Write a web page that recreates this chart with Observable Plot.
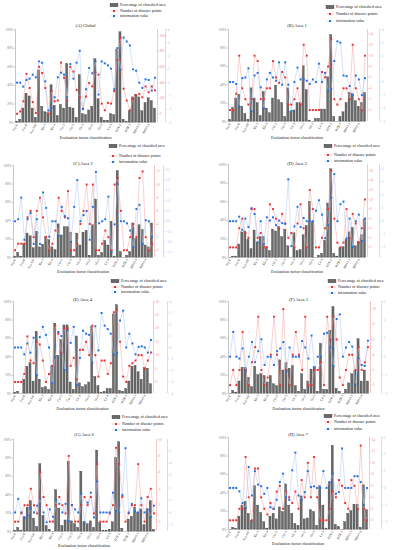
<!DOCTYPE html>
<html><head><meta charset="utf-8">
<script src="https://cdn.jsdelivr.net/npm/d3@7"></script>
<script src="https://cdn.jsdelivr.net/npm/@observablehq/plot@0.6"></script>
<style>
html,body{margin:0;padding:0;background:#fff;}
body{width:393px;height:550px;overflow:hidden;position:relative;font-family:"Liberation Serif","Times New Roman",serif;}
svg{position:absolute;}
</style></head><body>
<script>
// ---- categories (evaluation factor classes) ----
const categories = ["Asp-F","Asp-N","Asp-NE","Asp-E","Asp-SE","Asp-S","Asp-SW","Asp-W","Asp-NW",
  "Ele-1","Ele-2","Ele-3","Ele-4","Ele-5","Cur-1","Cur-2","Cur-3","Cur-4","Cur-5",
  "Gli-1","Gli-2","Gli-3","Gli-4","Slo-1","Slo-2","Slo-3","Slo-4","Slo-5",
  "Lit-1","Lit-2","Lit-3","Lit-4","DTF-1","DTF-2","DTF-3","DTF-4","DTR-1","DTR-2","DTR-3",
  "NDVI-1","NDVI-2","NDVI-3","NDVI-4","RAIN-1","RAIN-2"];
const tickLabelStep = 3;

// ---- series: percentage of classified area / number of disaster points / information value ----
const pctA = [0.01,0.03,0.15,0.31,0.28,0.15,0.05,0.56,0.17,0.11,0.10,0.40,0.18,0.07,0.19,0.15,0.63,0.16,0.15,0.05,0.51,0.09,0.08,0.13,0.17,0.68,0.25,0.05,0.02,0.02,0.09,0.08,0.78,0.97,0.03,0.01,0.12,0.27,0.30,0.27,0.12,0.21,0.26,0.23,0.15];
const redA = [0,30,160,510,330,150,10,600,520,330,0,290,160,170,655,460,170,600,540,305,210,65,220,395,350,530,500,130,45,140,130,290,690,970,320,170,45,185,235,255,210,350,275,350,300];
const blueA = [0,0,-0.3,0.2,0.3,0.6,0.4,1.6,1.5,0.1,-2.1,-1.9,-1.1,0.4,0.75,0.6,-1.1,1.4,0.3,1.5,2.4,-2.0,-0.5,1.1,0.7,1.6,-0.9,1.6,1.45,1.3,1.05,-0.5,2.6,1.0,3.4,3.1,2.8,1.0,0.9,0,-0.4,0.25,0.2,-0.6,0.37];

const pctB = [0.02,0.15,0.25,0.29,0.16,0.08,0.02,0.36,0.25,0.20,0.06,0.32,0.14,0.09,0.25,0.39,0.23,0.20,0.05,0.36,0.10,0.12,0.20,0.20,0.60,0.34,0.01,0.0,0.03,0.03,0.13,0.13,0.48,0.94,0.05,0.0,0.05,0.10,0.20,0.31,0.30,0.22,0.16,0.20,0.31];
const redB = [0,0,3,10,4,2,1,2,10,9,2,2,4,4,9,6,5,7,6,1,1,2,4,1,12,10,0,0,0,0,7,6,8,13,2,1,2,4,4,2,12,4,2,0,10];
const blueB = [0,0,-0.15,-1.85,0.3,0.35,1.05,-2.2,0.5,0.7,-0.4,-2.0,0.2,0.7,0.35,0.1,1.5,-0.2,1.5,-0.2,-2.2,0,1.1,0.2,0.2,0.1,-0.15,0.2,0,1.4,0,0.7,-0.65,-0.5,1.6,3.1,3.0,0.5,0.45,-0.3,-1.0,0.5,0.2,-1.0,0.3];

const pctC = [0.01,0.05,0.01,0.15,0.26,0.23,0.10,0.28,0.11,0.14,0.22,0.19,0.11,0.08,0.36,0.24,0.33,0.33,0.27,0.01,0.26,0.13,0.27,0.29,0.02,0.35,0.63,0.02,0.05,0.18,0.13,0.39,0.01,0.94,0.06,0.0,0.02,0.06,0.37,0.20,0.35,0.30,0.13,0.11,0.37];
const redC = [0,1,1,1,5,6,2,6,8,5,2,0,1,3,8,6,5,9,0,0,1,4,6,10,4,10,0,0,1,3,2,0,10,11,6,0,0,2,4,2,11,12,2,0,1];
const blueC = [0,0.1,1.15,-0.9,0.1,0.4,-1.1,0.1,-1.1,1.4,0.65,-0.75,0,0,-0.7,0.7,0.25,0.15,-1.0,0.7,2.0,0,0.3,0.5,-0.9,0.7,2.4,-0.1,0,0.1,1.2,-1.5,-0.15,1.8,0,0,-0.1,-0.45,-1.25,0.6,0.8,-1.1,0.05,0,-0.75];

const pctD = [0.0,0.01,0.01,0.14,0.27,0.28,0.19,0.09,0.29,0.16,0.22,0.22,0.11,0.07,0.30,0.28,0.33,0.22,0.30,0.12,0.0,0.26,0.07,0.08,0.24,0.34,0.60,0.38,0.0,0.02,0.04,0.18,0.58,0.95,0.04,0.01,0.10,0.11,0.19,0.27,0.32,0.12,0.17,0.24,0.41];
const redD = [0,0,0,4,6,3,2,8,8,2,3,0,0,9,8,6,4,7,5,2,3,0,5,9,4,0,12,8,0,0,2,4,8,16,6,1,0,1,8,2,7,5,1,4,10];
const blueD = [0,0,0,0.35,-0.65,0.2,-0.45,1.0,0.55,-1.6,0,-1.75,0.3,0.05,0.3,-0.3,0.05,-0.15,-0.2,3.2,-1.9,-0.4,1.1,-0.45,0.25,0,0,0,0.8,1.6,0.5,-1.3,-0.3,1.8,3.6,0,1.3,1.5,-1.3,0.2,-1.95,0,0.5,-1.5,0.2];

const pctE = [0.01,0.02,0.0,0.15,0.29,0.33,0.13,0.67,0.15,0.06,0.07,0.04,0.29,0.76,0.41,0.58,0.74,0.74,0.12,0.04,0.62,0.11,0.07,0.09,0.12,0.72,0.18,0.08,0.01,0.02,0.05,0.05,0.86,0.96,0.03,0.02,0.05,0.13,0.29,0.30,0.23,0.15,0.28,0.27,0.10];
const redE = [0,0,0,3,17,8,7,15,14,8,0,3,6,21,18,11,20,20,6,9,1,12,12,15,10,21,10,2,8,8,3,7,26,27,15,2,0,6,7,8,10,10,5,8,11];
const blueE = [0,0,0,-0.6,0.35,-0.45,0.85,-2.4,0.9,1.8,1.1,0,-3.1,-0.85,1.35,1.0,-1.95,1.5,0.4,1.8,-3.25,-0.9,1.45,1.2,1.1,-1.3,1.85,-0.25,3.0,1.9,1.6,1.2,-0.6,-0.45,2.35,3.2,0,1.2,0.35,-0.6,0.05,0.1,0,-0.45,0.65];

const pctF = [0.0,0.03,0.01,0.13,0.28,0.28,0.17,0.07,0.29,0.20,0.21,0.19,0.12,0.19,0.10,0.08,0.36,0.25,0.33,0.27,0.30,0.08,0.02,0.21,0.04,0.13,0.26,0.29,0.02,0.54,0.04,0.04,0.68,0.94,0.05,0.02,0.0,0.04,0.11,0.21,0.24,0.59,0.13,0.25,0.13];
const redF = [0,2,0,2,7,2,0,3,5,9,2,0,1,4,9,4,0,10,2,0,4,7,4,2,9,0,0,2,2,3,0,9,6,9,6,1,0,2,4,4,2,5,2,3,5];
const blueF = [0,1.35,0,-0.1,0.45,-0.8,0,0.8,-0.3,0.3,0.95,-0.45,0,0,-0.45,0.3,0.45,0.8,-0.8,0.5,0,0,0,0.85,0.5,-0.1,1.15,-0.6,0,0,1.25,1.3,0.5,-0.5,2.05,2.3,0,0.5,0.8,0.55,-1.5,-0.1,-0.45,-0.5,0.87];

const pctG = [0.01,0.04,0.01,0.16,0.26,0.33,0.14,0.05,0.73,0.17,0.06,0.02,0.0,0.45,0.25,0.06,0.12,0.76,0.11,0.08,0.04,0.65,0.10,0.08,0.11,0.04,0.88,0.09,0.01,0.01,0.02,0.10,0.80,0.97,0.03,0.0,0.13,0.16,0.26,0.20,0.24,0.07,0.24,0.33,0.02];
const redG = [0,0,1,2,2,4,2,1,6,3,2,0,0,2,3,2,1,8,2,0,0,2,3,2,3,1,7,0,0,0,1,2,9,7,3,0,1,2,2,7,2,0,3,4,1];
const blueG = [0,1.1,0,-0.45,-0.25,0.3,0,0.55,1.1,0,-0.8,0.25,-0.35,1.0,0.7,0,0.7,-0.7,0.6,0.25,0,1.5,-0.8,0.8,1.6,-0.4,2.5,0,0,0,0,1.6,0.1,0,1.4,5.2,0,0.7,0.1,0,1.15,0,0.25,-0.35,0.55];

const pctH = [0.0,0.02,0.01,0.14,0.26,0.30,0.17,0.09,0.47,0.26,0.18,0.08,0.01,0.14,0.17,0.11,0.24,0.19,0.49,0.26,0.17,0.06,0.04,0.36,0.11,0.12,0.21,0.19,0.04,0.47,0.26,0.01,0.51,0.91,0.05,0.03,0.0,0.08,0.17,0.20,0.27,0.27,0.02,0.48,0.21];
const redH = [0,0,0,2,2,11,4,0,9,9,4,2,1,3,2,5,6,2,5,4,3,5,2,7,4,10,4,11,4,0,0,0,2,5,4,7,6,3,2,7,6,2,13,2,0];
const blueH = [0,0,0,-0.2,-0.9,-1.2,1.25,-0.45,1.0,0.2,0.1,-0.35,0,-1.15,-1.25,-0.7,0.35,0.85,-0.55,-0.7,1.05,2.1,-0.45,-0.7,-0.25,1.0,0.05,0.1,0,0,1.0,0,0.35,0.85,-0.35,-0.25,2.35,0,0,0,0.7,0.7,0.35,-1.0,0];

// ---- titles, legend and axis texts ----
const titles = ["(A) Global","(B) Area 1","(C) Area 2","(D) Area 3","(E) Area 4","(F) Area 5","(G) Area 6","(H) Area 7"];
const legendLabels = ["Percentage of classified area","Number of disaster points","information value"];
const xAxisTitle = "Evaluation factor classification";
const pctTicks = [0,0.2,0.4,0.6,0.8,1];

// ---- right-hand axis domains and ticks ----
const redDomains = [[-111,1077],[-2.1,14.8],[-1.1,12.9],[-2.1,17.3],[-4.3,30],[-1.1,11],[-1.2,10],[-1.6,14.4]];
const redTicks = [[0,200,400,600,800,1000],[0,2,4,6,8,10,12,14],[0,2,4,6,8,10,12],[0,2,4,6,8,10,12,14,16],[0,5,10,15,20,25,30],[0,2,4,6,8,10],[0,2,4,6,8,10],[0,2,4,6,8,10,12,14]];
const blueDomains = [[-3,4],[-3,4],[-1.76,2.71],[-2.77,4.33],[-4,4],[-2,3],[-1.54,5.9],[-2.47,3]];
const blueTicks = [[-3,-2,-1,0,1,2,3,4],[-3,-2,-1,0,1,2,3,4],[-1.5,-1,-0.5,0,0.5,1,1.5,2,2.5],[-2,-1,0,1,2,3,4],[-4,-3,-2,-1,0,1,2,3,4],[-2,-1,0,1,2,3],[-1,0,1,2,3,4,5],[-2,-1,0,1,2,3]];
const blueFormats = ["d","d",".1f","d","d","d","d","d"];

const series = [[pctA,redA,blueA],[pctB,redB,blueB],[pctC,redC,blueC],[pctD,redD,blueD],[pctE,redE,blueE],[pctF,redF,blueF],[pctG,redG,blueG],[pctH,redH,blueH]];

// ---- layout (pixels) ----
const layout = [
  {x0:0,  w:196, left:15,  right:156, top:29,  bottom:122, blueOff:9,  legX:110, legY:[5,11,16],     titleY:26,  xtY:138},
  {x0:196,w:197, left:228, right:366, top:29,  bottom:121, blueOff:13, legX:326, legY:[7,14,21],     titleY:26,  xtY:138},
  {x0:0,  w:196, left:13,  right:153, top:165, bottom:257, blueOff:10, legX:109, legY:[146,156,162], titleY:164, xtY:272},
  {x0:196,w:197, left:228, right:366, top:164, bottom:257, blueOff:13, legX:324, legY:[146,155,161], titleY:164, xtY:272},
  {x0:0,  w:196, left:13,  right:152, top:301, bottom:393, blueOff:15, legX:111, legY:[281,287,292], titleY:300, xtY:409},
  {x0:196,w:197, left:228, right:369, top:301, bottom:393, blueOff:12, legX:328, legY:[281,287,293], titleY:300, xtY:409},
  {x0:0,  w:196, left:13,  right:155, top:439, bottom:531, blueOff:12, legX:112, legY:[417,424,430], titleY:435, xtY:546},
  {x0:196,w:197, left:228, right:368, top:437, bottom:529, blueOff:13, legX:324, legY:[416,422,429], titleY:435, xtY:544}
];

const BAR = "#6a6a6a", BAR_STROKE = "#333";
const RED = "#ec2f2f", RED_LINE = "#f3a2a2", RED_AXIS = "#f08c8c";
const BLUE = "#1f6fe6", BLUE_LINE = "#a8c9f0", BLUE_AXIS = "#9cc1ee";
const FONT = "Liberation Serif, Times New Roman, serif";

const N = categories.length;
const tickIdx = d3.range(0, N, tickLabelStep);

series.forEach(([pct, red, blue], k) => {
  const g = layout[k];
  const rd = redDomains[k], bd = blueDomains[k];
  const nR = v => (v - rd[0]) / (rd[1] - rd[0]);
  const nB = v => (v - bd[0]) / (bd[1] - bd[0]);
  const iR = t => rd[0] + t * (rd[1] - rd[0]);
  const iB = t => bd[0] + t * (bd[1] - bd[0]);
  const bf = d3.format(blueFormats[k]);
  const data = categories.map((c, i) => ({i, c, pct: pct[i], r: nR(red[i]), b: nB(blue[i])}));
  const mt = 3, mb = 16;
  const svg = Plot.plot({
    width: g.w,
    height: mt + (g.bottom - g.top) + mb,
    marginTop: mt, marginBottom: mb,
    marginLeft: g.left - g.x0, marginRight: g.x0 + g.w - g.right,
    x: {domain: [-0.5, N - 0.5], axis: null, label: null},
    y: {domain: [0, 1], axis: null, label: null},
    style: {fontFamily: FONT, background: "transparent", overflow: "visible"},
    marks: [
      Plot.rectY(data, {x1: d => d.i - 0.34, x2: d => d.i + 0.34, y1: d => 0, y2: "pct", fill: BAR, stroke: BAR_STROKE, strokeWidth: 0.3}),
      Plot.line(data, {x: "i", y: "r", stroke: RED_LINE, strokeWidth: 0.5}),
      Plot.line(data, {x: "i", y: "b", stroke: BLUE_LINE, strokeWidth: 0.5}),
      Plot.dot(data, {x: "i", y: "r", symbol: "square", r: 1.1, fill: RED}),
      Plot.dot(data, {x: "i", y: "b", symbol: "square", r: 1.1, fill: BLUE}),
      Plot.ruleX([-0.5], {stroke: "#8a8a8a", strokeWidth: 0.5}),
      Plot.ruleY([0], {stroke: "#8a8a8a", strokeWidth: 0.5}),
      Plot.axisY(pctTicks, {anchor: "left", label: null, tickFormat: d => Math.round(d * 100) + "%", fontSize: 3.3, tickSize: 1.2, tickPadding: 1, color: "#777", strokeWidth: 0.4}),
      Plot.ruleX([N - 0.5], {dx: 1, stroke: RED_AXIS, strokeWidth: 0.5}),
      Plot.axisY(redTicks[k].map(nR), {anchor: "right", label: null, dx: 1, tickFormat: t => String(Math.round(iR(t))), fontSize: 3.3, tickSize: 1.2, tickPadding: 1, color: RED_AXIS, strokeWidth: 0.4}),
      Plot.ruleX([N - 0.5], {dx: g.blueOff, stroke: BLUE_AXIS, strokeWidth: 0.5}),
      Plot.axisY(blueTicks[k].map(nB), {anchor: "right", label: null, dx: g.blueOff, tickFormat: t => bf(+iB(t).toFixed(3)), fontSize: 3.3, tickSize: 1.2, tickPadding: 1, color: BLUE_AXIS, strokeWidth: 0.4}),
      Plot.axisX(tickIdx, {label: null, tickFormat: i => categories[i], tickRotate: -60, fontSize: 3.2, tickSize: 1, tickPadding: 0.6, color: "#333", strokeWidth: 0.4})
    ]
  });
  svg.style.left = g.x0 + "px";
  svg.style.top = (g.top - mt) + "px";
  document.body.append(svg);
});

// ---- overlay: titles, legends, x-axis titles ----
const ov = d3.select("body").append("svg")
  .attr("width", 393).attr("height", 550)
  .style("left", "0px").style("top", "0px")
  .style("font-family", FONT);
layout.forEach((g, k) => {
  const cx = (g.left + g.right) / 2;
  ov.append("text").attr("x", cx).attr("y", g.titleY).attr("text-anchor", "middle")
    .attr("dominant-baseline", "middle").attr("font-size", 4.6).attr("fill", "#222").text(titles[k]);
  ov.append("text").attr("x", cx).attr("y", g.xtY).attr("text-anchor", "middle")
    .attr("dominant-baseline", "middle").attr("font-size", 4.2).attr("fill", "#222").text(xAxisTitle);
  const lx = g.legX, [y0, y1, y2] = g.legY;
  ov.append("rect").attr("x", lx).attr("y", y0 - 1.8).attr("width", 8).attr("height", 3.6)
    .attr("fill", BAR).attr("stroke", BAR_STROKE).attr("stroke-width", 0.3);
  ov.append("line").attr("x1", lx).attr("x2", lx + 8).attr("y1", y1).attr("y2", y1).attr("stroke", RED_LINE).attr("stroke-width", 0.5);
  ov.append("rect").attr("x", lx + 3).attr("y", y1 - 1).attr("width", 2).attr("height", 2).attr("fill", RED);
  ov.append("line").attr("x1", lx).attr("x2", lx + 8).attr("y1", y2).attr("y2", y2).attr("stroke", BLUE_LINE).attr("stroke-width", 0.5);
  ov.append("rect").attr("x", lx + 3).attr("y", y2 - 1).attr("width", 2).attr("height", 2).attr("fill", BLUE);
  [y0, y1, y2].forEach((yy, j) => {
    ov.append("text").attr("x", lx + 10).attr("y", yy).attr("dominant-baseline", "middle")
      .attr("font-size", 4).attr("fill", "#222").text(legendLabels[j]);
  });
});
</script>
</body></html>
